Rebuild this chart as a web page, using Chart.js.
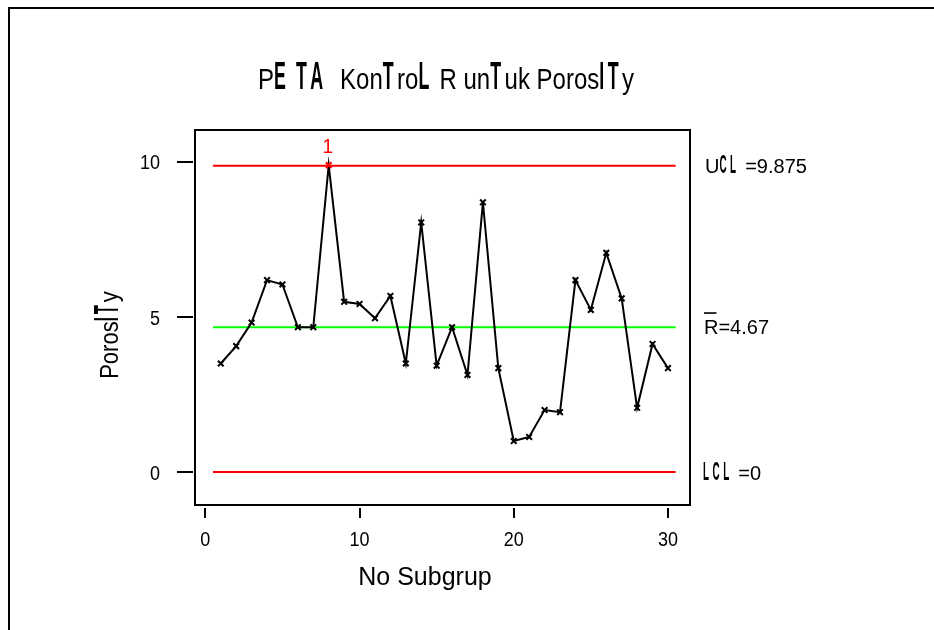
<!DOCTYPE html>
<html>
<head>
<meta charset="utf-8">
<title>Peta Kontrol R Porosity</title>
<script src="https://cdn.jsdelivr.net/npm/chart.js@4.4.1/dist/chart.umd.min.js"></script>
<style>
  html, body { margin: 0; padding: 0; background: #ffffff; }
  canvas { display: block; }
</style>
</head>
<body>
<canvas id="rchart" width="934" height="630"></canvas>
<script>
// Subgroup numbers and their ranges (R) for porosity
const subgroups = [1, 2, 3, 4, 5, 6, 7, 8, 9, 10,
                   11, 12, 13, 14, 15, 16, 17, 18, 19, 20,
                   21, 22, 23, 24, 25, 26, 27, 28, 29, 30];
const ranges = [3.50, 4.06, 4.82, 6.19, 6.05, 4.67, 4.67, 9.90, 5.49, 5.42,
                4.96, 5.68, 3.50, 8.05, 3.43, 4.67, 3.13, 8.70, 3.35, 1.00,
                1.13, 2.00, 1.93, 6.19, 5.23, 7.07, 5.60, 2.07, 4.13, 3.35];

// Control limits
const UCL = 9.875;
const RBAR = 4.67;
const LCL = 0;
const limitSpan = [0.5, 30.5];

// Axis ticks
const xTicks = [0, 10, 20, 30];
const yTicks = [0, 5, 10];

const FONT = '"Liberation Sans", Arial, Helvetica, sans-serif';
const RED = '#ff0000';
const GREEN = '#00ff00';

// Text pieces: [text, condensed]; condensed glyphs are drawn tall and narrow
const titleRuns = [['P', 0], ['E', 1], [' ', 0], ['TA', 1], ['  Kon', 0], ['T', 1], ['ro', 0], ['L', 1],
                   [' R un', 0], ['T', 1], ['uk Poros', 0], ['IT', 1], ['y', 0]];
const yTitleRuns = [['Poros', 0], ['IT', 1], ['y', 0]];
const uclRuns = [['U', 0], ['CL', 1], [' =' + UCL, 0]];
const lclRuns = [['LCL', 1], [' =' + LCL, 0]];

const titleStyle = { size: 24, stretch: 1.22, nWeight: 'bold', nSize: 1.35, nScale: 0.55, nGap: 3.5 };
const yTitleStyle = { size: 22, stretch: 1.2, nWeight: 'bold', nSize: 1.35, nScale: 0.5, nGap: 3 };
const limitStyle = { size: 20, stretch: 1, nWeight: 'bold', nSize: 1.3, nScale: 0.38, nGap: 3.5 };

function layoutRuns(ctx, runs, st) {
  const items = [];
  let w = 0;
  for (const [text, narrow] of runs) {
    if (narrow) {
      ctx.font = st.nWeight + ' ' + (st.size * st.nSize) + 'px ' + FONT;
      for (const ch of text) {
        const cw = ctx.measureText(ch).width * st.nScale;
        items.push({ ch, narrow: true, x: w });
        w += cw + st.nGap;
      }
    } else {
      ctx.font = st.size + 'px ' + FONT;
      const tw = ctx.measureText(text).width;
      items.push({ ch: text, narrow: false, x: w });
      w += tw;
    }
  }
  return { items, width: w };
}

function drawRuns(ctx, runs, x, y, st, align, color) {
  const { items, width } = layoutRuns(ctx, runs, st);
  let x0 = x;
  if (align === 'center') x0 = x - width / 2;
  else if (align === 'right') x0 = x - width;
  ctx.save();
  ctx.translate(x0, y);
  ctx.scale(1, st.stretch);
  ctx.fillStyle = color || '#000';
  ctx.textAlign = 'left';
  ctx.textBaseline = 'alphabetic';
  for (const it of items) {
    if (it.narrow) {
      ctx.font = st.nWeight + ' ' + (st.size * st.nSize) + 'px ' + FONT;
      ctx.save();
      ctx.translate(it.x, 0);
      ctx.scale(st.nScale, 1);
      ctx.fillText(it.ch, 0, 0);
      ctx.restore();
    } else {
      ctx.font = st.size + 'px ' + FONT;
      ctx.fillText(it.ch, it.x, 0);
    }
  }
  ctx.restore();
}

// plain text with a vertical stretch, anchored on its baseline
function drawText(ctx, text, x, y, size, stretch, align, color) {
  ctx.save();
  ctx.translate(x, y);
  ctx.scale(1, stretch);
  ctx.fillStyle = color || '#000';
  ctx.font = size + 'px ' + FONT;
  ctx.textAlign = align;
  ctx.textBaseline = 'alphabetic';
  ctx.fillText(text, 0, 0);
  ctx.restore();
}

const decorations = {
  id: 'decorations',
  beforeDraw(chart) {
    const ctx = chart.ctx;
    ctx.save();
    ctx.fillStyle = '#ffffff';
    ctx.fillRect(0, 0, chart.width, chart.height);
    // outer border of the figure
    ctx.fillStyle = '#000';
    ctx.fillRect(8, 7, 2, chart.height - 7);
    ctx.fillRect(8, 7, chart.width - 8, 2);
    ctx.restore();
  },
  afterDraw(chart) {
    const ctx = chart.ctx;
    const xs = chart.scales.x;
    const ys = chart.scales.y;
    const area = chart.chartArea;

    // plot frame, set just inside the tick marks
    ctx.save();
    ctx.strokeStyle = '#000';
    ctx.lineWidth = 2;
    ctx.strokeRect(area.left + 2, area.top, area.right - area.left - 2, area.bottom - area.top - 3);
    ctx.restore();

    // tick labels
    xs.ticks.forEach(t => {
      drawText(ctx, String(t.value), xs.getPixelForValue(t.value), area.bottom + 38, 18, 1.15, 'center');
    });
    ys.ticks.forEach(t => {
      drawText(ctx, String(t.value), area.left - 33, ys.getPixelForValue(t.value) + 7.5, 18, 1.15, 'right');
    });

    // title
    drawRuns(ctx, titleRuns, 446, 89, titleStyle, 'center');

    // y axis title (rotated)
    ctx.save();
    ctx.translate(118, 335);
    ctx.rotate(-Math.PI / 2);
    drawRuns(ctx, yTitleRuns, 0, 0, yTitleStyle, 'center');
    ctx.restore();

    // x axis title
    drawText(ctx, 'No Subgrup', 425, 585, 25, 1.06, 'center');

    // control limit labels at the right of the frame
    const lx = area.right + 15;
    drawRuns(ctx, uclRuns, lx, ys.getPixelForValue(UCL) + 7, limitStyle, 'left');
    const ry = ys.getPixelForValue(RBAR) + 7;
    ctx.save();
    ctx.fillStyle = '#000';
    ctx.font = '20px ' + FONT;
    ctx.textAlign = 'left';
    ctx.textBaseline = 'alphabetic';
    ctx.fillText('R=' + RBAR, lx - 1, ry);
    const rw = ctx.measureText('R').width;
    ctx.fillRect(lx - 1, ry - 22, rw - 2, 1.6);
    ctx.restore();
    drawRuns(ctx, lclRuns, lx - 2, ys.getPixelForValue(LCL) + 8, limitStyle, 'left');

    // flag points beyond the limits with test number 1
    ranges.forEach((r, i) => {
      if (r > UCL || r < LCL) {
        drawText(ctx, '1', xs.getPixelForValue(subgroups[i]) - 1, ys.getPixelForValue(r) - 12, 19, 1.05, 'center', RED);
      }
    });
  }
};

const limitLine = (value, color) => ({
  data: limitSpan.map(x => ({ x, y: value })),
  borderColor: color,
  borderWidth: 2,
  pointRadius: 0,
  showLine: true,
  fill: false
});

const outColor = (c) => {
  const v = c.raw ? c.raw.y : 0;
  return (v > UCL || v < LCL) ? RED : '#000';
};

new Chart(document.getElementById('rchart'), {
  type: 'scatter',
  data: {
    datasets: [
      {
        data: subgroups.map((s, i) => ({ x: s, y: ranges[i] })),
        borderColor: '#000',
        borderWidth: 2,
        showLine: true,
        fill: false,
        tension: 0,
        pointStyle: 'crossRot',
        pointRadius: 4,
        pointBorderWidth: 2,
        pointBorderColor: outColor,
        pointBackgroundColor: outColor
      },
      limitLine(UCL, RED),
      limitLine(RBAR, GREEN),
      limitLine(LCL, RED)
    ]
  },
  options: {
    responsive: false,
    devicePixelRatio: 1,
    animation: false,
    layout: { padding: { top: 130, right: 244, left: 0, bottom: 0 } },
    plugins: {
      legend: { display: false },
      title: { display: false },
      tooltip: { enabled: false }
    },
    scales: {
      x: {
        type: 'linear',
        min: -0.8,
        max: 31.43,
        afterFit(scale) { scale.height = 122; },
        afterBuildTicks(scale) { scale.ticks = xTicks.map(v => ({ value: v })); },
        border: { display: false },
        grid: { drawOnChartArea: false, drawTicks: true, tickLength: 10, tickWidth: 2, tickColor: '#000', lineWidth: 2, color: '#000' },
        ticks: { display: false }
      },
      y: {
        type: 'linear',
        min: -1.161,
        max: 11.032,
        afterFit(scale) { scale.width = 193; },
        afterBuildTicks(scale) { scale.ticks = yTicks.map(v => ({ value: v })); },
        border: { display: false },
        grid: { drawOnChartArea: false, drawTicks: true, tickLength: 16, tickWidth: 2, tickColor: '#000', lineWidth: 2, color: '#000' },
        ticks: { display: false }
      }
    }
  },
  plugins: [decorations]
});
</script>
</body>
</html>
